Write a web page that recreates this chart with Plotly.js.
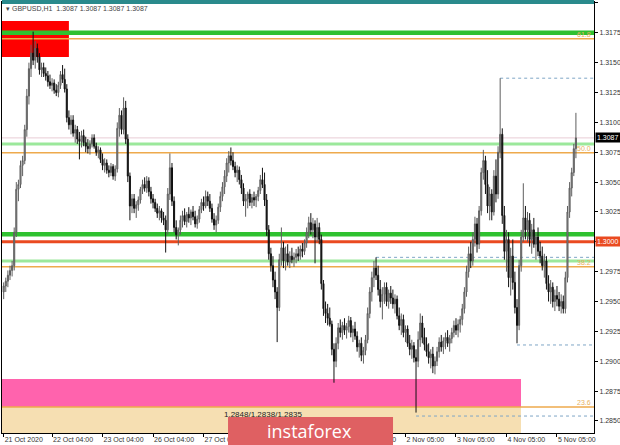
<!DOCTYPE html>
<html><head><meta charset="utf-8">
<script src="https://cdn.plot.ly/plotly-3.0.1.min.js"></script>
<style>html,body{margin:0;padding:0;background:#fff}#chart{width:620px;height:445px}</style>
</head><body><div id="chart"></div>
<script>
// GBPUSD H1 candles (bar index 0 = first bar, 21 Oct 2020)
const open = [1.2958,1.2963,1.2967,1.2972,1.2976,1.2980,1.3008,1.3044,1.3048,1.3064,
1.3068,1.3094,1.3122,1.3145,1.3158,1.3152,1.3162,1.3155,1.3144,1.3146,
1.3141,1.3139,1.3134,1.3131,1.3133,1.3127,1.3125,1.3131,1.3140,1.3136,
1.3128,1.3104,1.3098,1.3102,1.3091,1.3094,1.3086,1.3084,1.3089,1.3083,
1.3080,1.3078,1.3082,1.3087,1.3080,1.3075,1.3077,1.3069,1.3064,1.3066,
1.3060,1.3058,1.3063,1.3055,1.3061,1.3095,1.3106,1.3094,1.3112,1.3086,
1.3055,1.3030,1.3036,1.3028,1.3031,1.3035,1.3044,1.3048,1.3045,1.3051,
1.3042,1.3036,1.3033,1.3028,1.3024,1.3026,1.3020,1.3018,1.3010,1.3040,
1.3062,1.3034,1.3012,1.3006,1.3010,1.3018,1.3022,1.3017,1.3023,1.3020,
1.3025,1.3021,1.3015,1.3019,1.3027,1.3033,1.3030,1.3038,1.3034,1.3028,
1.3019,1.3014,1.3018,1.3029,1.3038,1.3046,1.3055,1.3066,1.3072,1.3068,
1.3063,1.3058,1.3060,1.3052,1.3045,1.3034,1.3036,1.3040,1.3033,1.3037,
1.3035,1.3038,1.3043,1.3052,1.3048,1.3035,1.3010,1.2990,1.2980,1.2968,
1.2958,1.2945,1.2985,1.2995,1.2984,1.2990,1.2983,1.2988,1.2985,1.2987,
1.2990,1.2988,1.2994,1.2992,1.2999,1.3008,1.3016,1.3010,1.3015,1.3004,
1.3012,1.3002,1.2965,1.2944,1.2940,1.2936,1.2931,1.2910,1.2900,1.2915,
1.2928,1.2924,1.2930,1.2926,1.2929,1.2934,1.2924,1.2927,1.2921,1.2912,
1.2915,1.2905,1.2909,1.2918,1.2940,1.2958,1.2970,1.2978,1.2972,1.2960,
1.2950,1.2956,1.2962,1.2950,1.2957,1.2953,1.2948,1.2952,1.2938,1.2930,
1.2935,1.2924,1.2927,1.2915,1.2910,1.2913,1.2903,1.2900,1.2918,1.2932,
1.2920,1.2914,1.2908,1.2903,1.2906,1.2896,1.2900,1.2908,1.2916,1.2912,
1.2917,1.2920,1.2915,1.2919,1.2924,1.2930,1.2926,1.2931,1.2935,1.2944,
1.2958,1.2975,1.2990,1.2984,1.3002,1.3015,1.2998,1.3026,1.3058,1.3068,
1.3048,1.3030,1.3040,1.3025,1.3055,1.3040,1.3075,1.3090,1.3022,1.2992,
1.3002,1.2970,1.2988,1.2966,1.2945,1.2930,1.2980,1.3004,1.3020,1.3010,
1.3018,1.3002,1.3010,1.2998,1.3004,1.2992,1.2988,1.2980,1.2984,1.2965,
1.2958,1.2962,1.2950,1.2955,1.2952,1.2946,1.2950,1.2944,1.2970,1.3025,
1.3045,1.3058,1.3078];
const high = [1.2966,1.2970,1.2976,1.2980,1.2984,1.3012,1.3050,1.3052,1.3068,1.3072,
1.3098,1.3128,1.3150,1.3165,1.3176,1.3168,1.3166,1.3158,1.3150,1.3150,
1.3146,1.3143,1.3140,1.3137,1.3136,1.3132,1.3134,1.3143,1.3148,1.3145,
1.3132,1.3110,1.3106,1.3106,1.3098,1.3097,1.3092,1.3093,1.3094,1.3088,
1.3086,1.3085,1.3090,1.3090,1.3083,1.3080,1.3079,1.3074,1.3070,1.3069,
1.3064,1.3066,1.3065,1.3064,1.3100,1.3112,1.3110,1.3121,1.3118,1.3090,
1.3058,1.3040,1.3040,1.3034,1.3038,1.3046,1.3052,1.3054,1.3055,1.3054,
1.3046,1.3040,1.3036,1.3032,1.3030,1.3028,1.3025,1.3022,1.3045,1.3074,
1.3066,1.3038,1.3018,1.3012,1.3022,1.3026,1.3028,1.3025,1.3029,1.3027,
1.3030,1.3026,1.3022,1.3030,1.3036,1.3038,1.3043,1.3042,1.3040,1.3032,
1.3024,1.3022,1.3032,1.3042,1.3050,1.3060,1.3070,1.3076,1.3079,1.3075,
1.3067,1.3064,1.3063,1.3056,1.3049,1.3040,1.3042,1.3044,1.3040,1.3042,
1.3040,1.3046,1.3056,1.3062,1.3058,1.3040,1.3014,1.2995,1.2988,1.2975,
1.2962,1.2990,1.3012,1.3000,1.2996,1.2998,1.2992,1.2995,1.2991,1.2994,
1.2996,1.2997,1.2999,1.3002,1.3012,1.3021,1.3024,1.3020,1.3018,1.3020,
1.3016,1.3006,1.2968,1.2950,1.2948,1.2945,1.2934,1.2915,1.2920,1.2932,
1.2935,1.2933,1.2936,1.2932,1.2938,1.2937,1.2930,1.2933,1.2925,1.2918,
1.2920,1.2912,1.2922,1.2945,1.2962,1.2975,1.2984,1.2987,1.2980,1.2968,
1.2962,1.2966,1.2966,1.2960,1.2963,1.2960,1.2956,1.2955,1.2945,1.2940,
1.2939,1.2930,1.2930,1.2922,1.2918,1.2916,1.2910,1.2925,1.2940,1.2938,
1.2928,1.2920,1.2915,1.2910,1.2912,1.2904,1.2912,1.2920,1.2922,1.2920,
1.2924,1.2926,1.2922,1.2928,1.2934,1.2936,1.2935,1.2938,1.2948,1.2962,
1.2980,1.2996,1.3000,1.3008,1.3021,1.3020,1.3030,1.3062,1.3077,1.3072,
1.3060,1.3046,1.3044,1.3060,1.3069,1.3080,1.3137,1.3095,1.3030,1.3010,
1.3008,1.2995,1.3002,1.2975,1.2952,1.2985,1.3010,1.3049,1.3030,1.3025,
1.3024,1.3015,1.3020,1.3008,1.3012,1.3000,1.2996,1.2990,1.2988,1.2972,
1.2968,1.2966,1.2960,1.2963,1.2958,1.2956,1.2955,1.2975,1.3030,1.3050,
1.3062,1.3082,1.3108];
const low = [1.2952,1.2958,1.2962,1.2968,1.2971,1.2976,1.3004,1.3034,1.3045,1.3055,
1.3065,1.3088,1.3115,1.3138,1.3148,1.3145,1.3150,1.3140,1.3138,1.3138,
1.3135,1.3130,1.3128,1.3126,1.3124,1.3122,1.3121,1.3128,1.3133,1.3125,
1.3100,1.3094,1.3090,1.3088,1.3083,1.3082,1.3069,1.3079,1.3080,1.3075,
1.3074,1.3073,1.3079,1.3078,1.3072,1.3070,1.3066,1.3060,1.3058,1.3057,
1.3054,1.3055,1.3052,1.3051,1.3058,1.3088,1.3090,1.3090,1.3082,1.3050,
1.3018,1.3024,1.3024,1.3020,1.3026,1.3032,1.3040,1.3042,1.3041,1.3038,
1.3032,1.3028,1.3025,1.3020,1.3018,1.3016,1.3014,1.2991,1.3006,1.3035,
1.3030,1.3008,1.3002,1.2997,1.3006,1.3012,1.3014,1.3012,1.3016,1.3014,
1.3018,1.3012,1.3011,1.3016,1.3024,1.3026,1.3028,1.3030,1.3025,1.3016,
1.3010,1.3008,1.3015,1.3025,1.3034,1.3040,1.3050,1.3058,1.3064,1.3060,
1.3054,1.3050,1.3048,1.3040,1.3030,1.3021,1.3028,1.3030,1.3028,1.3030,
1.3029,1.3034,1.3040,1.3045,1.3030,1.3005,1.2985,1.2975,1.2962,1.2952,
1.2916,1.2942,1.2980,1.2978,1.2976,1.2980,1.2978,1.2982,1.2979,1.2982,
1.2984,1.2985,1.2987,1.2989,1.2995,1.3003,1.3006,1.3003,1.2982,1.3000,
1.2998,1.2960,1.2938,1.2932,1.2930,1.2929,1.2905,1.2882,1.2895,1.2910,
1.2920,1.2918,1.2922,1.2919,1.2924,1.2920,1.2916,1.2918,1.2908,1.2903,
1.2900,1.2898,1.2905,1.2915,1.2936,1.2950,1.2962,1.2968,1.2955,1.2945,
1.2935,1.2948,1.2946,1.2944,1.2948,1.2944,1.2940,1.2935,1.2926,1.2922,
1.2920,1.2916,1.2912,1.2905,1.2902,1.2899,1.2857,1.2895,1.2912,1.2915,
1.2909,1.2904,1.2898,1.2894,1.2890,1.2889,1.2896,1.2903,1.2908,1.2906,
1.2910,1.2912,1.2908,1.2915,1.2920,1.2922,1.2920,1.2924,1.2930,1.2940,
1.2954,1.2970,1.2978,1.2980,1.2996,1.2991,1.2994,1.3022,1.3052,1.3040,
1.3024,1.3018,1.3018,1.3022,1.3033,1.3036,1.3070,1.3015,1.2985,1.2975,
1.2962,1.2955,1.2960,1.2940,1.2915,1.2926,1.2975,1.3000,1.3002,1.3000,
1.2996,1.2990,1.2995,1.2985,1.2988,1.2982,1.2976,1.2970,1.2960,1.2950,
1.2948,1.2945,1.2942,1.2946,1.2942,1.2940,1.2940,1.2940,1.2966,1.3020,
1.3038,1.3055,1.3070];
const close = [1.2963,1.2967,1.2972,1.2976,1.2980,1.3008,1.3044,1.3048,1.3064,1.3068,
1.3094,1.3122,1.3145,1.3158,1.3152,1.3162,1.3155,1.3144,1.3146,1.3141,
1.3139,1.3134,1.3131,1.3133,1.3127,1.3125,1.3131,1.3140,1.3136,1.3128,
1.3104,1.3098,1.3102,1.3091,1.3094,1.3086,1.3084,1.3089,1.3083,1.3080,
1.3078,1.3082,1.3087,1.3080,1.3075,1.3077,1.3069,1.3064,1.3066,1.3060,
1.3058,1.3063,1.3055,1.3061,1.3095,1.3106,1.3094,1.3112,1.3086,1.3055,
1.3030,1.3036,1.3028,1.3031,1.3035,1.3044,1.3048,1.3045,1.3051,1.3042,
1.3036,1.3033,1.3028,1.3024,1.3026,1.3020,1.3018,1.3010,1.3040,1.3062,
1.3034,1.3012,1.3006,1.3010,1.3018,1.3022,1.3017,1.3023,1.3020,1.3025,
1.3021,1.3015,1.3019,1.3027,1.3033,1.3030,1.3038,1.3034,1.3028,1.3019,
1.3014,1.3018,1.3029,1.3038,1.3046,1.3055,1.3066,1.3072,1.3068,1.3063,
1.3058,1.3060,1.3052,1.3045,1.3034,1.3036,1.3040,1.3033,1.3037,1.3035,
1.3038,1.3043,1.3052,1.3048,1.3035,1.3010,1.2990,1.2980,1.2968,1.2958,
1.2945,1.2985,1.2995,1.2984,1.2990,1.2983,1.2988,1.2985,1.2987,1.2990,
1.2988,1.2994,1.2992,1.2999,1.3008,1.3016,1.3010,1.3015,1.3004,1.3012,
1.3002,1.2965,1.2944,1.2940,1.2936,1.2931,1.2910,1.2900,1.2915,1.2928,
1.2924,1.2930,1.2926,1.2929,1.2934,1.2924,1.2927,1.2921,1.2912,1.2915,
1.2905,1.2909,1.2918,1.2940,1.2958,1.2970,1.2978,1.2972,1.2960,1.2950,
1.2956,1.2962,1.2950,1.2957,1.2953,1.2948,1.2952,1.2938,1.2930,1.2935,
1.2924,1.2927,1.2915,1.2910,1.2913,1.2903,1.2900,1.2918,1.2932,1.2920,
1.2914,1.2908,1.2903,1.2906,1.2896,1.2900,1.2908,1.2916,1.2912,1.2917,
1.2920,1.2915,1.2919,1.2924,1.2930,1.2926,1.2931,1.2935,1.2944,1.2958,
1.2975,1.2990,1.2984,1.3002,1.3015,1.2998,1.3026,1.3058,1.3068,1.3048,
1.3030,1.3040,1.3025,1.3055,1.3040,1.3075,1.3090,1.3022,1.2992,1.3002,
1.2970,1.2988,1.2966,1.2945,1.2930,1.2980,1.3004,1.3020,1.3010,1.3018,
1.3002,1.3010,1.2998,1.3004,1.2992,1.2988,1.2980,1.2984,1.2965,1.2958,
1.2962,1.2950,1.2955,1.2952,1.2946,1.2950,1.2944,1.2970,1.3025,1.3045,
1.3058,1.3078,1.3087];

const tickBars = [0,23,47,71,95,119,143,167,191,215,239,263];
const tickLabels = ["21 Oct 2020","22 Oct 04:00","23 Oct 04:00","26 Oct 04:00","27 Oct 04:00","28 Oct 04:00","29 Oct 04:00","30 Oct 04:00","2 Nov 05:00","3 Nov 05:00","4 Nov 05:00","5 Nov 05:00"];
const priceTicks = [1.2850,1.2875,1.2900,1.2925,1.2950,1.2975,1.3000,1.3025,1.3050,1.3075,1.3100,1.3125,1.3150,1.3175,1.3200];

// levels
const greenLevels = [1.3175, 1.30063];
const lightGreenLevels = [1.3082, 1.29839];
const fibLevels = [1.3170, 1.30746, 1.29792, 1.28617];
const fibNames = ["61.8","50.0","38.2","23.6"];
const redLevel = 1.3000;
const bidLevel = 1.3087;
const dottedLevels = [1.3137, 1.2987, 1.29136, 1.28541];
const dottedFromBar = [236, 177, 244, 196];
const redBox = {bar1: 31, top: 1.31849, bottom: 1.31548};
const pinkBox = {bar1: 245.9, top: 1.28851, bottom: 1.28617};
const beigeBox = {bar1: 245.9, top: 1.28617, bottom: 1.2830};
const zoneText = "1.2848/1.2838/1.2835";

const xs = close.map((_, i) => i);
const XMIN = -0.8, XMAX = 280.6;

const shapes = [];
function hl(y, color, width, dash, x0, x1) {
  shapes.push({type:'line', xref:'x', yref:'y', x0:x0===undefined?XMIN:x0, x1:x1===undefined?XMAX:x1, y0:y, y1:y,
    line:{color:color, width:width, dash:dash||'solid'}, layer:'below'});
}
shapes.push({type:'rect', xref:'x', yref:'y', x0:XMIN, x1:redBox.bar1, y0:redBox.bottom, y1:redBox.top, fillcolor:'#ff0000', line:{width:0}, layer:'below'});
shapes.push({type:'rect', xref:'x', yref:'y', x0:XMIN, x1:pinkBox.bar1, y0:pinkBox.bottom, y1:pinkBox.top, fillcolor:'#ff63ad', line:{width:0}, layer:'below'});
shapes.push({type:'rect', xref:'x', yref:'y', x0:XMIN, x1:beigeBox.bar1, y0:beigeBox.bottom, y1:beigeBox.top, fillcolor:'#f6dfb2', line:{width:0}, layer:'below'});
hl(bidLevel, '#e9cdd5', 1);
lightGreenLevels.forEach(v => hl(v, '#9be89b', 3));
fibLevels.forEach(v => hl(v, '#eeaa4c', 1.5));
dottedLevels.forEach((v, k) => hl(v, '#7fa6c6', 1, 'dot', dottedFromBar[k], XMAX));
greenLevels.forEach(v => hl(v, '#2fc12f', 4.5));
hl(redLevel, '#ea4a20', 3);
// top teal band
shapes.push({type:'line', xref:'paper', yref:'paper', x0:0, x1:1, y0:1, y1:1, line:{color:'#2a8a8c', width:4}});
// watermark box
shapes.push({type:'rect', xref:'paper', yref:'paper', x0:0.3818, x1:0.6605, y0:-0.03, y1:0.0371, fillcolor:'#df6062', line:{width:0}, layer:'above'});

const annotations = [];
annotations.push({xref:'paper', yref:'paper', x:0.003, y:1, xanchor:'left', yanchor:'top', yshift:-1, showarrow:false,
  text:'▾ GBPUSD,H1  1.3087 1.3087 1.3087 1.3087', font:{family:'Liberation Sans, Arial', size:7, color:'#444'}});
fibLevels.forEach((v, k) => annotations.push({xref:'paper', yref:'y', x:1, y:v, xanchor:'right', yanchor:'bottom', xshift:-1, yshift:-1, showarrow:false,
  text:fibNames[k], font:{family:'Liberation Sans, Arial', size:7, color:'#e8b060'}}));
annotations.push({xref:'paper', yref:'y', x:1, y:bidLevel, xanchor:'left', yanchor:'middle', xshift:1, showarrow:false,
  text:'1.3087', bgcolor:'#000', borderpad:1, font:{family:'Liberation Sans, Arial', size:7, color:'#fff'}});
annotations.push({xref:'paper', yref:'y', x:1, y:redLevel, xanchor:'left', yanchor:'middle', xshift:1, showarrow:false,
  text:'1.3000', bgcolor:'#ea4a20', borderpad:1, font:{family:'Liberation Sans, Arial', size:7, color:'#fff'}});
annotations.push({xref:'x', yref:'y', x:104, y:1.2855, xanchor:'left', yanchor:'middle', showarrow:false,
  text:zoneText, font:{family:'Liberation Sans, Arial', size:8, color:'#222'}});
annotations.push({xref:'paper', yref:'paper', x:0.5186, y:0.004, xanchor:'center', yanchor:'middle', showarrow:false,
  text:'instaforex', font:{family:'Open Sans, Liberation Sans', size:18, color:'#ffffff'}});

const trace = {
  type:'candlestick', x:xs, open:open, high:high, low:low, close:close,
  increasing:{line:{color:'#5e5e5e', width:1}, fillcolor:'#9a9a9a'},
  decreasing:{line:{color:'#111111', width:1}, fillcolor:'#111111'},
  whiskerwidth:0, hoverinfo:'skip', showlegend:false
};

const layout = {
  width:620, height:445,
  margin:{l:2, r:26, t:2, b:12},
  paper_bgcolor:'#fff', plot_bgcolor:'#fff',
  showlegend:false,
  xaxis:{range:[XMIN, XMAX], rangeslider:{visible:false}, tickmode:'array', tickvals:tickBars, ticktext:tickLabels,
    ticklabelposition:'outside right', ticks:'outside', ticklen:3, tickcolor:'#000',
    showgrid:false, zeroline:false, showline:true, linecolor:'#000', linewidth:1, mirror:true,
    tickfont:{family:'Liberation Sans, Arial', size:7, color:'#333'}, fixedrange:true},
  yaxis:{range:[1.28399, 1.32008], side:'right', tickmode:'array', tickvals:priceTicks,
    ticktext:priceTicks.map(v => v === redLevel ? '' : v.toFixed(4)), ticks:'outside', ticklen:3, tickcolor:'#000',
    showgrid:false, zeroline:false, showline:true, linecolor:'#000', linewidth:1, mirror:true,
    tickfont:{family:'Liberation Sans, Arial', size:7, color:'#333'}, fixedrange:true},
  shapes:shapes, annotations:annotations
};
Plotly.newPlot('chart', [trace], layout, {staticPlot:true, displayModeBar:false});
</script></body></html>
